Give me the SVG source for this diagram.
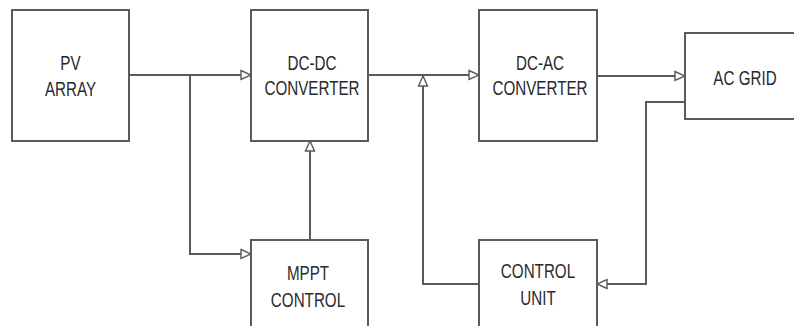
<svg xmlns="http://www.w3.org/2000/svg" width="794" height="326" viewBox="0 0 794 326">
<defs>
<style>
.box{fill:#fff;stroke:#5a5a5a;stroke-width:2}
.ln{fill:none;stroke:#5a5a5a;stroke-width:2;marker-end:url(#arr)}
.ln2{fill:none;stroke:#5a5a5a;stroke-width:2}
.t{font-family:"Liberation Sans",Arial,sans-serif;font-size:20px;fill:#2a2a2a;text-anchor:middle}
</style>
<marker id="arr" viewBox="0 0 12 12" refX="11" refY="6" markerWidth="12" markerHeight="12" markerUnits="userSpaceOnUse" orient="auto">
<path d="M1,1.5 L11,6 L1,10.5 Z" fill="#fff" stroke="#5a5a5a" stroke-width="1.4"/>
</marker>
</defs>
<rect width="794" height="326" fill="#fff"/>
<g id="connectors">
<path class="ln" d="M129,75 H251"/>
<path class="ln" d="M190,75 V254 H251"/>
<path class="ln" d="M310,240 V141"/>
<path class="ln" d="M368,75 H479"/>
<path class="ln" d="M597,76 H685"/>
<path class="ln" d="M685,102 H646 V284 H597"/>
<path class="ln" d="M479,284 H423 V76"/>
</g>
<g id="pv-array">
<rect class="box" x="12" y="10" width="117" height="131"/>
<text class="t" transform="translate(70.5,70) scale(0.76,1)">PV</text>
<text class="t" transform="translate(70.5,96) scale(0.76,1)">ARRAY</text>
</g>
<g id="dc-dc">
<rect class="box" x="251" y="10" width="117" height="131"/>
<text class="t" transform="translate(312,70) scale(0.76,1)">DC-DC</text>
<text class="t" transform="translate(312,95) scale(0.76,1)">CONVERTER</text>
</g>
<g id="dc-ac">
<rect class="box" x="479" y="10" width="118" height="131"/>
<text class="t" transform="translate(540,70) scale(0.76,1)">DC-AC</text>
<text class="t" transform="translate(540,95) scale(0.76,1)">CONVERTER</text>
</g>
<g id="ac-grid">
<rect class="box" x="685" y="33" width="120" height="86"/>
<text class="t" transform="translate(745,85) scale(0.76,1)">AC GRID</text>
</g>
<g id="mppt">
<rect class="box" x="251" y="240" width="117" height="90"/>
<text class="t" transform="translate(308,280) scale(0.76,1)">MPPT</text>
<text class="t" transform="translate(308,307) scale(0.76,1)">CONTROL</text>
</g>
<g id="control-unit">
<rect class="box" x="479" y="240" width="118" height="90"/>
<text class="t" transform="translate(538,278) scale(0.76,1)">CONTROL</text>
<text class="t" transform="translate(538,305) scale(0.76,1)">UNIT</text>
</g>
</svg>
